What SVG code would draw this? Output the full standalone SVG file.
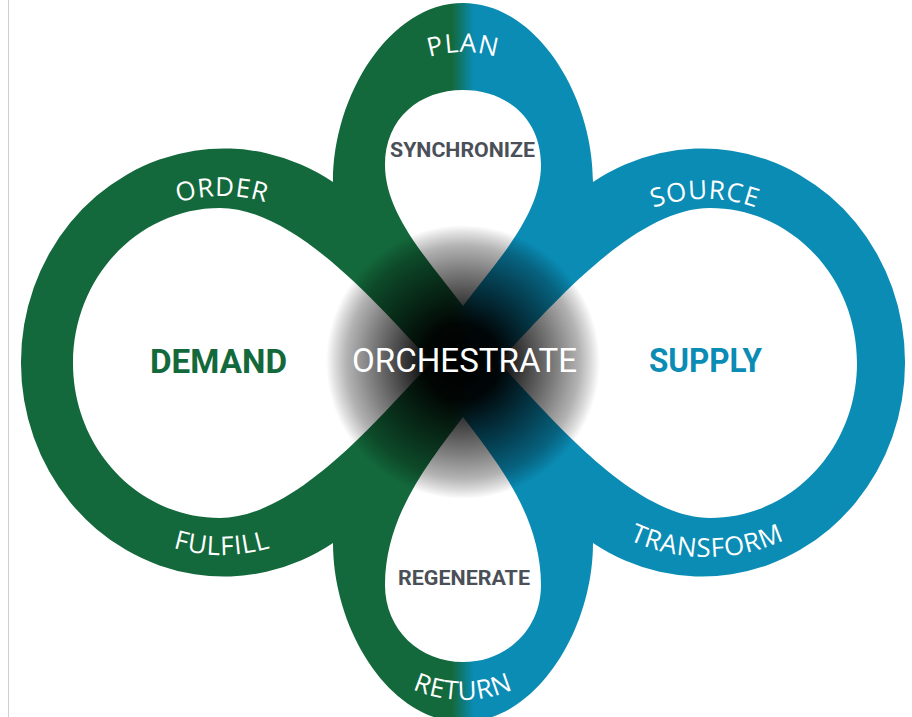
<svg xmlns="http://www.w3.org/2000/svg" width="912" height="717" viewBox="0 0 912 717">
<style>
.band{font-family:"Open Sans","Liberation Sans",sans-serif;font-size:26px;fill:#ffffff;letter-spacing:0.8px}
.hub{font-family:Roboto,"Liberation Sans",sans-serif;font-weight:700;text-anchor:middle}
.sub{font-family:Roboto,"Liberation Sans",sans-serif;font-weight:700;font-size:21px;fill:#4a4f58;text-anchor:middle}
</style>
<defs>
<linearGradient id="rib" gradientUnits="userSpaceOnUse" x1="452" y1="0" x2="474" y2="0">
<stop offset="0" stop-color="#13693b"/>
<stop offset="1" stop-color="#0a8cb5"/>
</linearGradient>
<radialGradient id="core" cx="463" cy="362" r="137" gradientUnits="userSpaceOnUse">
<stop offset="0" stop-color="#000" stop-opacity="1"/>
<stop offset="0.28" stop-color="#000" stop-opacity="0.95"/>
<stop offset="0.48" stop-color="#000" stop-opacity="0.72"/>
<stop offset="0.68" stop-color="#000" stop-opacity="0.5"/>
<stop offset="0.85" stop-color="#000" stop-opacity="0.3"/>
<stop offset="0.94" stop-color="#000" stop-opacity="0.13"/>
<stop offset="1" stop-color="#000" stop-opacity="0"/>
</radialGradient>
<path id="p-order" d="M 64,362 A 158 166 0 0 1 380,362"/>
<path id="p-fulfill" d="M 42,362 A 180 193 0 0 0 402,362"/>
<path id="p-source" d="M 547,362 A 158 163 0 0 1 863,362"/>
<path id="p-transform" d="M 517,362 A 190 195 0 0 0 897,362"/>
<path id="p-plan" d="M 350,165 A 113 113 0 0 1 576,165"/>
<path id="p-return" d="M 338,575 A 125 125 0 0 0 588,575"/>
</defs>
<rect x="0" y="0" width="912" height="717" fill="#ffffff"/>
<line x1="8.5" y1="0" x2="8.5" y2="717" stroke="#cfcfcf" stroke-width="1"/>

<g id="connectors">
<path id="ribbon" fill="url(#rib)" fill-rule="evenodd" d="M 333,182 C 333,95 390,3 463,3 C 536,3 593,95 593,182 A 203 214 0 1 1 593,543 C 593,630 536,722 463,722 C 390,722 333,630 333,543 A 203 214 0 1 1 333,182 Z
M 463,306 C 430,262 385,215 385,165 C 385,118 420,90 463,90 C 506,90 541,118 541,165 C 541,215 496,262 463,306 Z
M 463,417 C 496,461 541,515 541,585 C 541,630 506,662 463,662 C 420,662 385,630 385,585 C 385,515 430,461 463,417 Z
M 432,362 C 390,320 300,208 220,208 C 139,208 73,277 73,363 C 73,449 139,518 220,518 C 300,518 390,404 432,362 Z
M 498,362 C 540,320 630,208 710,208 C 791,208 857,277 857,363 C 857,449 791,518 710,518 C 630,518 540,404 498,362 Z"/>
</g>

<g id="node-demand">
<text class="band"><textPath href="#p-order" startOffset="50%" text-anchor="middle">ORDER</textPath></text>
<text class="band"><textPath href="#p-fulfill" startOffset="50%" text-anchor="middle">FULFILL</textPath></text>
<text class="hub" x="218.5" y="373" font-size="34" fill="#13693b" textLength="137" lengthAdjust="spacingAndGlyphs">DEMAND</text>
</g>

<g id="node-supply">
<text class="band"><textPath href="#p-source" startOffset="50%" text-anchor="middle">SOURCE</textPath></text>
<text class="band"><textPath href="#p-transform" startOffset="50%" text-anchor="middle">TRANSFORM</textPath></text>
<text class="hub" x="705.5" y="372" font-size="34" fill="#0a8cb5" textLength="113" lengthAdjust="spacingAndGlyphs">SUPPLY</text>
</g>

<g id="node-plan">
<text class="band"><textPath href="#p-plan" startOffset="50%" text-anchor="middle">PLAN</textPath></text>
<text class="sub" x="462.5" y="157" textLength="145" lengthAdjust="spacingAndGlyphs">SYNCHRONIZE</text>
</g>

<g id="node-return">
<text class="band"><textPath href="#p-return" startOffset="50%" text-anchor="middle">RETURN</textPath></text>
<text class="sub" x="464" y="585" textLength="132" lengthAdjust="spacingAndGlyphs">REGENERATE</text>
</g>

<g id="node-orchestrate">
<circle cx="463" cy="362" r="137" fill="url(#core)"/>
<text class="hub" x="464.5" y="372" font-size="33" style="font-weight:400" fill="#ffffff" textLength="225" lengthAdjust="spacingAndGlyphs">ORCHESTRATE</text>
</g>
</svg>
